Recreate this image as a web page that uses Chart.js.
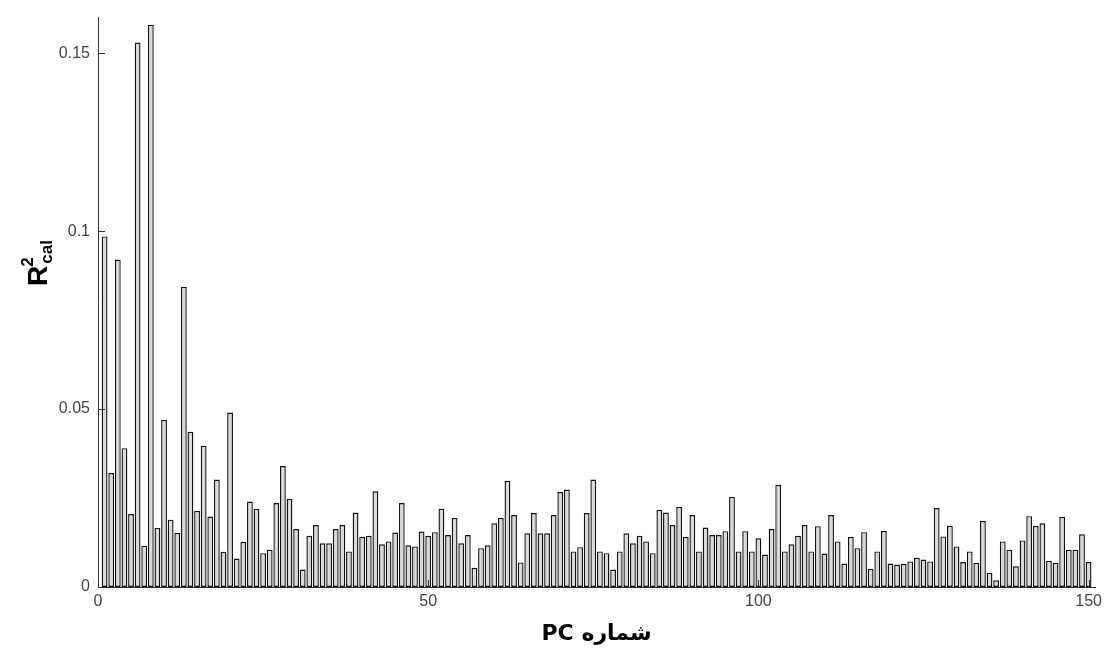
<!DOCTYPE html>
<html lang="fa">
<head>
  <meta charset="UTF-8">
  <title>R2 cal - PC</title>
  <script src="https://cdn.jsdelivr.net/npm/chart.js"></script>
  <style>
    html, body { margin: 0; padding: 0; background: #fff; }
    #wrap { width: 1107px; height: 656px; }
  </style>
</head>
<body>
  <div id="wrap"><canvas id="chart"></canvas></div>

  <script>
    // R2 cal per PC (1..150)
    const r2cal = [
      0.0985, 0.032, 0.092, 0.039, 0.0205, 0.153, 0.0116, 0.158, 0.0166, 0.047,
      0.0189, 0.0152, 0.0844, 0.0436, 0.0214, 0.0397, 0.0198, 0.0302, 0.0099, 0.049,
      0.008, 0.0127, 0.024, 0.022, 0.0095, 0.0105, 0.0236, 0.034, 0.0248, 0.0163,
      0.0049, 0.0144, 0.0174, 0.0123, 0.0123, 0.0163, 0.0174, 0.01, 0.0209, 0.0141,
      0.0144, 0.0269, 0.012, 0.0128, 0.0153, 0.0236, 0.0117, 0.0114, 0.0156, 0.0144,
      0.0154, 0.022, 0.0146, 0.0194, 0.0123, 0.0146, 0.0054, 0.0109, 0.0117, 0.0179,
      0.0194, 0.0298, 0.0202, 0.0069, 0.0151, 0.0208, 0.0151, 0.0151, 0.0202, 0.0267,
      0.0274, 0.01, 0.0112, 0.0208, 0.0302, 0.01, 0.0095, 0.0049, 0.01, 0.0151,
      0.0123, 0.0144, 0.0128, 0.0095, 0.0217, 0.0209, 0.0174, 0.0225, 0.0141, 0.0202,
      0.01, 0.0167, 0.0146, 0.0146, 0.0157, 0.0253, 0.01, 0.0157, 0.01, 0.0137,
      0.0091, 0.0163, 0.0287, 0.01, 0.012, 0.0144, 0.0174, 0.01, 0.0171, 0.0094,
      0.0202, 0.0128, 0.0066, 0.0141, 0.0109, 0.0154, 0.0051, 0.01, 0.0158, 0.0066,
      0.0063, 0.0065, 0.0072, 0.0082, 0.0077, 0.0072, 0.0222, 0.0142, 0.0172, 0.0114,
      0.007, 0.01, 0.0068, 0.0186, 0.004, 0.0019, 0.0128, 0.0105, 0.0058, 0.0131,
      0.0199, 0.0172, 0.0179, 0.0074, 0.0068, 0.0197, 0.0105, 0.0105, 0.0148, 0.007
    ];
    const pcNumbers = r2cal.map((v, i) => i + 1);
    const xTicks = [0, 50, 100, 150];
    const yTicks = [0, 0.05, 0.1, 0.15];
    const xTitle = 'شماره PC';

    const tickFont = { family: "'Liberation Sans', Arial, sans-serif", size: 16 };

    // inward tick marks + axis titles (R^2 with "cal" subscript needs manual drawing)
    const axisExtras = {
      id: 'axisExtras',
      afterDraw(chart) {
        const ctx = chart.ctx;
        const { left, bottom } = chart.chartArea;
        const xs = chart.scales.x, ys = chart.scales.y;
        ctx.save();
        ctx.strokeStyle = '#333';
        ctx.lineWidth = 1;
        ctx.beginPath();
        yTicks.slice(1).forEach(v => {
          const py = Math.round(ys.getPixelForValue(v)) + 0.5;
          ctx.moveTo(left, py);
          ctx.lineTo(left + 7, py);
        });
        xTicks.slice(1).forEach(v => {
          const px = Math.round(xs.getPixelForValue(v)) + 0.5;
          ctx.moveTo(px, bottom);
          ctx.lineTo(px, bottom - 7);
        });
        ctx.stroke();

        // y title: R^2 cal
        ctx.fillStyle = '#000';
        ctx.translate(47, 286);
        ctx.rotate(-Math.PI / 2);
        ctx.textBaseline = 'alphabetic';
        ctx.textAlign = 'left';
        ctx.font = "bold 28px 'Liberation Sans', Arial, sans-serif";
        ctx.fillText('R', 0, 0);
        const rw = ctx.measureText('R').width + 1;
        ctx.font = "bold 17px 'Liberation Sans', Arial, sans-serif";
        ctx.fillText('2', rw - 2, -14);
        ctx.fillText('cal', rw + 1, 5);
        ctx.restore();

        // x title, right-to-left
        ctx.save();
        ctx.fillStyle = '#000';
        ctx.direction = 'rtl';
        ctx.textAlign = 'center';
        ctx.textBaseline = 'middle';
        ctx.font = "bold 22px 'DejaVu Sans', sans-serif";
        ctx.fillText(xTitle, (chart.chartArea.left + chart.chartArea.right) / 2, 634);
        ctx.restore();
      }
    };

    new Chart(document.getElementById('chart'), {
      type: 'bar',
      data: {
        datasets: [{
          data: pcNumbers.map((pc, i) => ({ x: pc, y: r2cal[i] })),
          backgroundColor: '#d9d9d9',
          borderColor: '#111',
          borderWidth: 1.4,
          borderSkipped: false,
          barPercentage: 0.88,
          categoryPercentage: 1
        }]
      },
      options: {
        responsive: true,
        maintainAspectRatio: false,
        animation: false,
        layout: { padding: { top: 11, right: 10, left: 0, bottom: 0 } },
        plugins: { legend: { display: false }, tooltip: { enabled: false } },
        scales: {
          x: {
            type: 'linear',
            min: 0,
            max: 151,
            offset: false,
            grid: { display: false, offset: false, drawTicks: false },
            border: { display: true, color: '#333', width: 1 },
            afterBuildTicks: s => { s.ticks = xTicks.map(v => ({ value: v })); },
            afterFit: s => { s.height = 69; },
            ticks: { font: tickFont, color: '#444', padding: 5, maxRotation: 0, autoSkip: false, callback: v => String(v) }
          },
          y: {
            min: 0,
            max: 0.16,
            grid: { display: false, drawTicks: false },
            border: { display: true, color: '#333', width: 1 },
            afterBuildTicks: s => { s.ticks = yTicks.map(v => ({ value: v })); },
            afterFit: s => { s.width = 98; },
            ticks: { font: tickFont, color: '#444', padding: 8, callback: v => String(Math.round(v * 100) / 100) }
          }
        }
      },
      plugins: [axisExtras]
    });
  </script>
</body>
</html>
